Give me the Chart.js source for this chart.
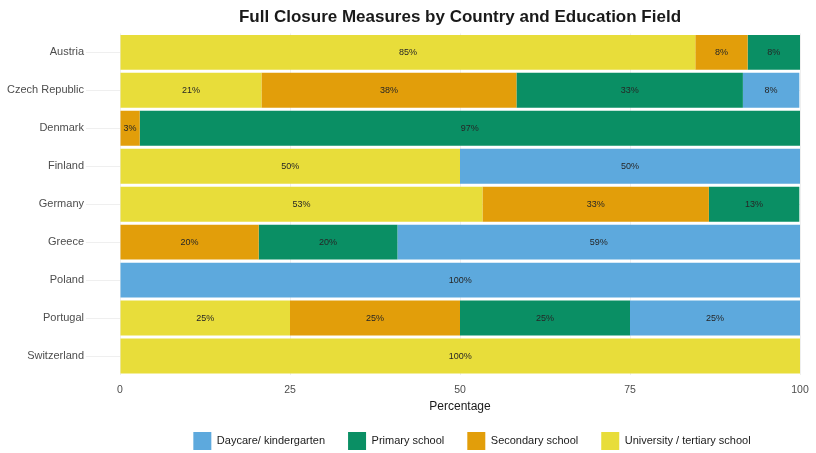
<!DOCTYPE html>
<html>
<head>
<meta charset="utf-8">
<script src="https://cdn.jsdelivr.net/npm/chart.js@4"></script>
<style>
  html, body { margin: 0; padding: 0; background: #fff; }
  #wrap { width: 816px; height: 453px; }
</style>
</head>
<body>
<div id="wrap"><canvas id="chart"></canvas></div>
<script>
// Countries (top to bottom)
const countries = ['Austria', 'Czech Republic', 'Denmark', 'Finland', 'Germany', 'Greece', 'Poland', 'Portugal', 'Switzerland'];

// Share of full closures per education field (%)
const university = [84.6, 20.8, 0, 50, 53.3, 0, 0, 25, 100];
const secondary  = [7.7, 37.5, 2.9, 0, 33.3, 20.4, 0, 25, 0];
const primary    = [7.7, 33.3, 97.1, 0, 13.3, 20.4, 0, 25, 0];
const daycare    = [0, 8.3, 0, 50, 0, 59.2, 100, 25, 0];

const xTicks = [0, 25, 50, 75, 100];

const FONT = '"Liberation Sans", Arial, sans-serif';

// Draw the percentage labels in the middle of each segment
const barLabels = {
    id: 'barLabels',
    afterDatasetsDraw(chart) {
        const ctx = chart.ctx;
        ctx.save();
        ctx.font = '9px ' + FONT;
        ctx.fillStyle = '#262626';
        ctx.textAlign = 'center';
        ctx.textBaseline = 'middle';
        chart.data.datasets.forEach((ds, i) => {
            const meta = chart.getDatasetMeta(i);
            meta.data.forEach((bar, j) => {
                const v = ds.data[j];
                if (!v) return;
                ctx.fillText(Math.round(v) + '%', (bar.x + bar.base) / 2, bar.y);
            });
        });
        ctx.restore();
    }
};

// nudge the legend a bit to the right, like the original
const legendShift = {
    id: 'legendShift',
    afterLayout(chart) {
        const l = chart.legend;
        if (!l) return;
        l.left += 12;
        l.right += 12;
        if (l.adjustHitBoxes) l.adjustHitBoxes();
    }
};

new Chart(document.getElementById('chart'), {
    type: 'bar',
    data: {
        labels: countries,
        datasets: [
            { label: 'University / tertiary school', data: university, backgroundColor: '#E8DD3A' },
            { label: 'Secondary school', data: secondary, backgroundColor: '#E29E0A' },
            { label: 'Primary school', data: primary, backgroundColor: '#0A8F64' },
            { label: 'Daycare/ kindergarten', data: daycare, backgroundColor: '#5DA9DD' }
        ]
    },
    options: {
        indexAxis: 'y',
        responsive: true,
        maintainAspectRatio: false,
        animation: false,
        datasets: {
            bar: { barPercentage: 0.92, categoryPercentage: 1, borderWidth: 0 }
        },
        layout: { padding: { top: 5, right: 16, bottom: -7, left: 0 } },
        scales: {
            x: {
                stacked: true,
                min: 0,
                max: 100,
                afterBuildTicks: s => { s.ticks = xTicks.map(v => ({ value: v })); },
                afterFit: s => {
                    s.height = 34;
                    s.paddingLeft = 0;
                    s.paddingRight = 0;
                },
                grid: { color: '#efefef', drawTicks: false },
                border: { display: false },
                ticks: {
                    color: '#4d4d4d',
                    padding: 9,
                    font: { family: FONT, size: 10.5 }
                },
                title: {
                    display: true,
                    text: 'Percentage',
                    color: '#1a1a1a',
                    padding: { top: 0, bottom: -5 },
                    font: { family: FONT, size: 12 }
                }
            },
            y: {
                stacked: true,
                afterFit: s => { s.width = 120; },
                grid: { color: '#efefef', offset: false, drawTicks: true, tickLength: 34 },
                border: { display: false },
                ticks: {
                    color: '#4d4d4d',
                    padding: 2,
                    font: { family: FONT, size: 11 }
                }
            }
        },
        plugins: {
            title: {
                display: true,
                fullSize: false,
                text: 'Full Closure Measures by Country and Education Field',
                color: '#1a1a1a',
                padding: { top: 2, bottom: 6 },
                font: { family: FONT, size: 17, weight: 'bold' }
            },
            legend: {
                position: 'bottom',
                fullSize: false,
                labels: {
                    boxWidth: 18,
                    boxHeight: 18,
                    padding: 23,
                    color: '#1a1a1a',
                    font: { family: FONT, size: 11 },
                    sort: (a, b) => b.datasetIndex - a.datasetIndex
                }
            },
            tooltip: { enabled: false }
        }
    },
    plugins: [barLabels, legendShift]
});
</script>
</body>
</html>
